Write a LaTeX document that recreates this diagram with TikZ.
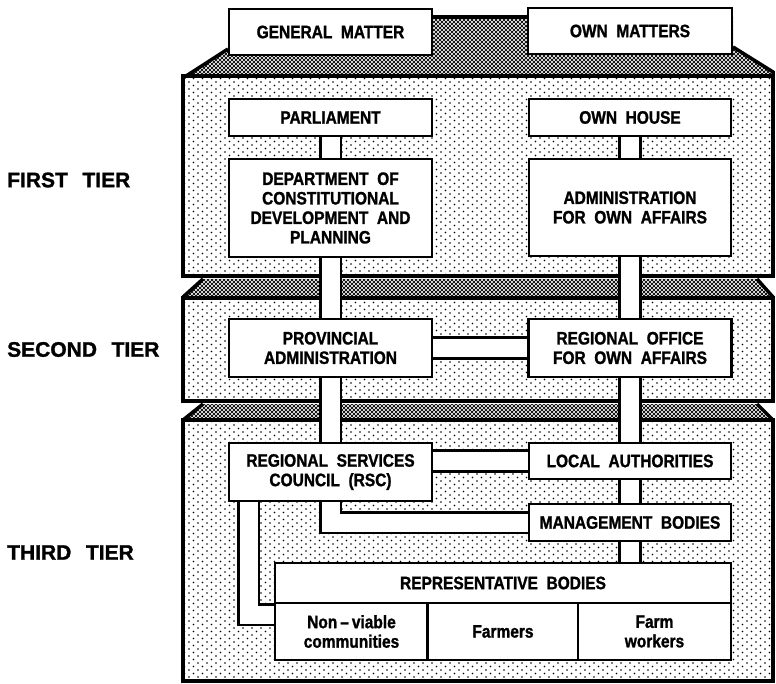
\documentclass[tikz,border=0pt]{standalone}
\usepackage{fontspec}
\setmainfont[FakeStretch=0.86,WordSpace=2,BoldFeatures={FakeBold=1.3}]{Liberation Sans}
\newfontfamily\tierfont[WordSpace=2.5,BoldFeatures={FakeBold=1.3}]{Liberation Sans}
\usetikzlibrary{patterns}

\pgfdeclarepatternformonly{sparsedots}{\pgfqpoint{-1pt}{-1pt}}{\pgfqpoint{6pt}{5pt}}{\pgfqpoint{9pt}{7pt}}{%
  \pgfpathcircle{\pgfqpoint{0pt}{0pt}}{0.85pt}%
  \pgfpathcircle{\pgfqpoint{4.5pt}{3.5pt}}{0.85pt}%
  \pgfusepath{fill}}
\pgfdeclarepatternformonly{densedots}{\pgfqpoint{-1.4pt}{-1.4pt}}{\pgfqpoint{3.4pt}{3.4pt}}{\pgfqpoint{4pt}{4pt}}{%
  \pgfpathcircle{\pgfqpoint{0pt}{0pt}}{1.35pt}%
  \pgfpathcircle{\pgfqpoint{2pt}{2pt}}{1.35pt}%
  \pgfusepath{fill}}

\pgfdeclarelayer{back}
\pgfdeclarelayer{mid}
\pgfsetlayers{back,mid,main}

\begin{document}
\begin{tikzpicture}[x=1pt, y=-1pt,
    box/.style={draw, line width=2.6pt, fill=white, align=center, inner sep=2pt, font=\bfseries\fontsize{18}{19.5}\selectfont},
    bar/.style={line width=2.6pt, double=white, double distance=18pt},
    tierwall/.style={draw, line width=3.5pt, pattern=sparsedots},
    bandfill/.style={pattern=densedots},
    rim/.style={line width=3.5pt},
    tiername/.style={anchor=west, inner sep=0pt, font=\tierfont\bfseries\fontsize{21}{24}\selectfont}]
  \useasboundingbox (0,0) rectangle (776,684);

  \begin{pgfonlayer}{back}
    \fill[white] (0,0) rectangle (776,684);
    % top band
    \fill[bandfill] (183,77) -- (228,49) -- (228,17) -- (733,17) -- (733,47) -- (773,72) -- (773,77) -- cycle;
    \draw[rim] (183,78) -- (228,49);
    \draw[rim] (433,17) -- (527,17);
    \draw[rim] (733,47) -- (773,72) -- (773,78);
    % tiers
    \draw[tierwall] (183,76) rectangle (773,276);
    \fill[bandfill] (203,279) -- (757,279) -- (773,296) -- (183,296) -- cycle;
    \draw[rim] (183,297) -- (203,279);
    \draw[rim] (757,279) -- (773,297);
    \draw[tierwall] (183,298) rectangle (773,401);
    \fill[bandfill] (203,404) -- (757,404) -- (773,419) -- (183,419) -- cycle;
    \draw[rim] (183,420) -- (203,404);
    \draw[rim] (757,404) -- (773,420);
    \draw[tierwall] (183,420) rectangle (773,681);
  \end{pgfonlayer}

  \node[tiername] (first) at (7,180) {FIRST TIER};
  \node[tiername] (second) at (7,349.5) {SECOND TIER};
  \node[tiername] (third) at (7,552.5) {THIRD TIER};

  \node[box, minimum width=203, minimum height=46] (genm) at (330.5,32) {GENERAL MATTER};
  \node[box, minimum width=204, minimum height=46] (ownm) at (630,31) {OWN MATTERS};

  \node[box, minimum width=203, minimum height=37] (parl) at (330.5,117.5) {PARLIAMENT};
  \node[box, minimum width=202, minimum height=37] (ownh) at (630,117.5) {OWN HOUSE};
  \node[box, minimum width=203, minimum height=98] (dept) at (330.5,208) {DEPARTMENT OF\\CONSTITUTIONAL\\DEVELOPMENT AND\\PLANNING};
  \node[box, minimum width=202, minimum height=97] (admin) at (630,207.5) {ADMINISTRATION\\FOR OWN AFFAIRS};

  \node[box, minimum width=203, minimum height=58] (prov) at (330.5,348) {PROVINCIAL\\ADMINISTRATION};
  \node[box, minimum width=203, minimum height=58] (regoff) at (630,348) {REGIONAL OFFICE\\FOR OWN AFFAIRS};

  \node[box, minimum width=203, minimum height=58] (rsc) at (330.5,472) {REGIONAL SERVICES\\COUNCIL (RSC)};
  \node[box, minimum width=202, minimum height=36] (locauth) at (630,461) {LOCAL AUTHORITIES};
  \node[box, minimum width=202, minimum height=37] (mgmt) at (630,522.5) {MANAGEMENT BODIES};

  \node[box, minimum width=456, minimum height=40] (rep) at (503,583) {REPRESENTATIVE BODIES};
  \node[box, minimum width=153, minimum height=57] (nonv) at (351.5,631.5) {Non\hspace{3pt}--\hspace{3pt}viable\\communities};
  \node[box, minimum width=151, minimum height=57] (farm) at (503,631.5) {Farmers};
  \node[box, minimum width=153, minimum height=57] (farmw) at (654.5,631.5) {Farm\\workers};

  \begin{pgfonlayer}{mid}
    \draw[bar] (parl) -- (dept);
    \draw[bar] (ownh) -- (admin);
    \draw[bar] (dept) -- (prov);
    \draw[bar] (admin) -- (regoff);
    \draw[bar] (prov) -- (regoff);
    \draw[bar] (prov) -- (rsc);
    \draw[bar] (regoff) -- (locauth);
    \draw[bar] (locauth) -- (mgmt);
    \draw[bar] (mgmt) -- (mgmt |- rep.north);
    \draw[bar] (locauth.west) -- (locauth.west -| rsc.east);
    \draw[bar] (rsc.south) |- (mgmt.west);
    \draw[bar] ([xshift=21pt]rsc.south west) |- ([yshift=17pt]nonv.west);
  \end{pgfonlayer}
\end{tikzpicture}
\end{document}
